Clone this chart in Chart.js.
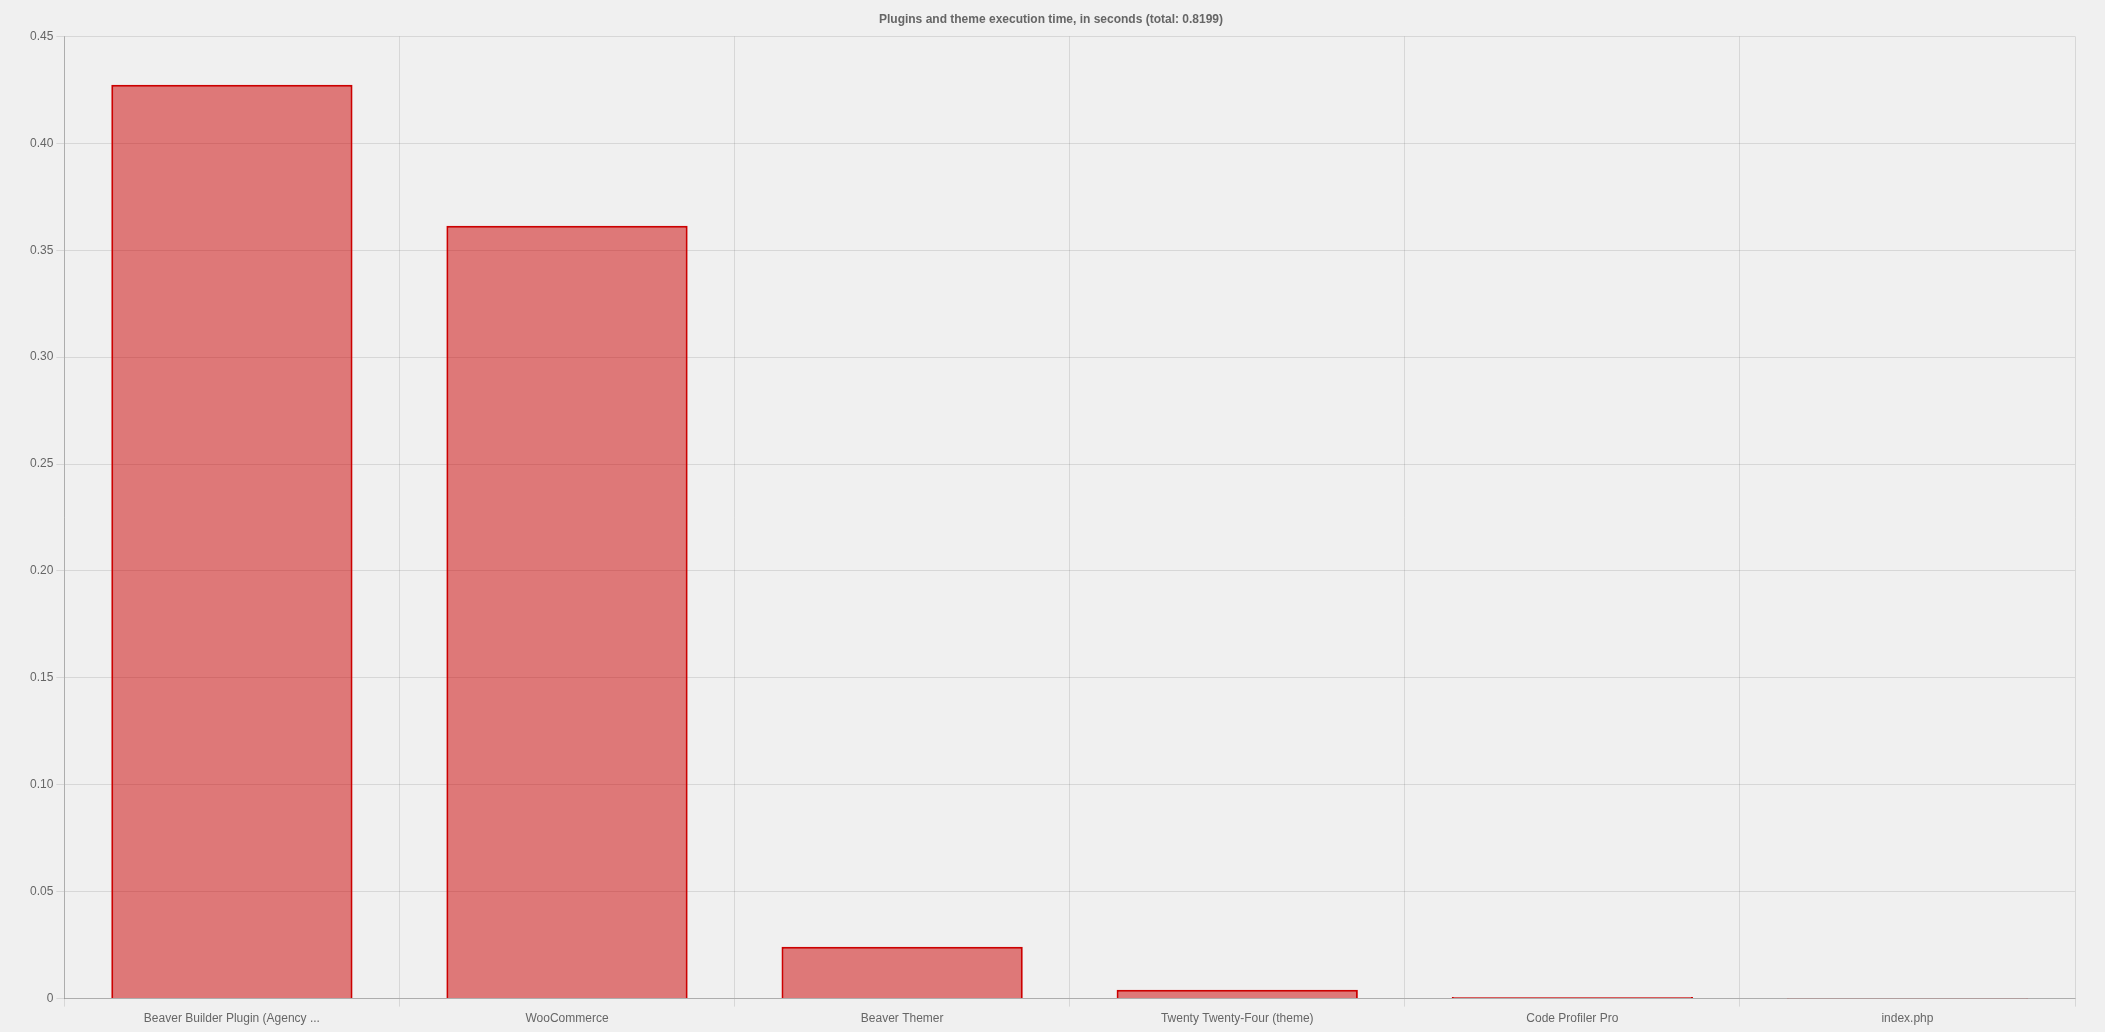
<!DOCTYPE html>
<html>
<head>
<meta charset="utf-8">
<title>Plugins and theme execution time</title>
<script src="https://cdn.jsdelivr.net/npm/chart.js@4/dist/chart.umd.min.js"></script>
<style>
  html, body { margin: 0; padding: 0; background: #f0f0f0; }
  #wrap { width: 2105px; height: 1032px; }
</style>
</head>
<body>
<div id="wrap"><canvas id="mycanvas"></canvas></div>
<script>
var plugins = [
  'Beaver Builder Plugin (Agency ...',
  'WooCommerce',
  'Beaver Themer',
  'Twenty Twenty-Four (theme)',
  'Code Profiler Pro',
  'index.php'
];
var seconds = [0.4274, 0.3615, 0.0242, 0.0041, 0.0007, 0.0001];
var total = '0.8199';

Chart.defaults.font.family = '"Helvetica Neue", Helvetica, "Liberation Sans", Arial, sans-serif';
Chart.defaults.font.size = 12;
Chart.defaults.color = '#666';

var chartdata = {
  labels: plugins,
  datasets: [
    {
      label: 'Seconds',
      backgroundColor: 'rgba(204, 0, 0, 0.5)',
      borderColor: 'rgba(204, 0, 0, 1)',
      borderWidth: 2,
      data: seconds
    }
  ]
};

var ctx = document.getElementById('mycanvas');

var barGraph = new Chart(ctx, {
  type: 'bar',
  data: chartdata,
  options: {
    responsive: true,
    maintainAspectRatio: false,
    animation: false,
    layout: { padding: { left: 27, right: 30, top: 2, bottom: 1 } },
    plugins: {
      legend: { display: false },
      title: {
        display: true,
        text: 'Plugins and theme execution time, in seconds (total: ' + total + ')',
        color: '#666',
        font: { size: 12, weight: 'bold' },
        padding: { top: 10, bottom: 10 }
      }
    },
    scales: {
      x: {
        grid: { color: 'rgba(0,0,0,0.1)', tickLength: 8 },
        border: { color: 'rgba(0,0,0,0.2)' },
        ticks: { maxRotation: 0, autoSkip: false, padding: 5 }
      },
      y: {
        min: 0,
        max: 0.45,
        grid: { color: 'rgba(0,0,0,0.1)', tickLength: 8 },
        border: { color: 'rgba(0,0,0,0.2)' },
        ticks: {
          stepSize: 0.05,
          callback: function(v) { return v === 0 ? '0' : v.toFixed(2); }
        }
      }
    }
  }
});
</script>
</body>
</html>
